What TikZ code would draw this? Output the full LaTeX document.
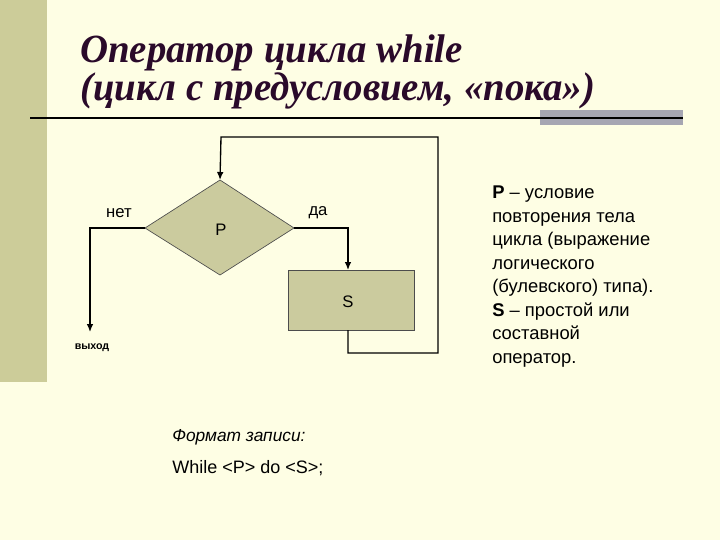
\documentclass[tikz,border=0pt]{standalone}
\usepackage{fontspec}
\setmainfont{Liberation Serif}
\setsansfont{Liberation Sans}
\usetikzlibrary{arrows.meta}
\definecolor{bg}{HTML}{FEFEE4}
\definecolor{bar}{HTML}{CCCC99}
\definecolor{fillc}{HTML}{CBCB9E}
\definecolor{titlec}{HTML}{2A0A2A}
\definecolor{grayblk}{HTML}{A6A6B2}
\tikzset{
  conn/.style={line width=1pt},
  arr/.style={conn,-{Latex[length=6pt,width=5pt]}},
  lab/.style={font=\sffamily\fontsize{12.5}{14}\selectfont, inner sep=0pt},
  shapefill/.style={fill=fillc, draw=black!70, line width=0.5pt},
  ttl/.style={anchor=base west, text=titlec, font=\bfseries\itshape\fontsize{30}{34}\selectfont, inner sep=0pt, xscale=0.97}
}
\begin{document}
\begin{tikzpicture}[x=0.75pt,y=-0.75pt]
\useasboundingbox (0,0) rectangle (720,540);
\fill[bg] (0,0) rectangle (720,540);
\fill[bar] (0,0) rectangle (47,382);
\fill[grayblk] (540,110) rectangle (683,125);
\draw[line width=1.5pt] (30,118) -- (683,118);
\node[ttl] (t1) at (80,62) {Оператор цикла while};
\node[ttl] (t2) at (80,100) {(цикл с предусловием, «пока»)};
% diamond
\path[shapefill] (145,228) -- (220,180) -- (294,228) -- (220,275) -- cycle;
\coordinate (dL) at (145,228); \coordinate (dR) at (294,228);
\coordinate (dT) at (220,180);
\node[lab] (P) at (221,230) {P};
\node[shapefill, minimum width=94.5pt, minimum height=45pt, inner sep=0pt, anchor=north west] (S) at (288,270) {};
\node[lab] (Sl) at (348,302) {S};
\coordinate (exit) at (90,332);
\coordinate (sb) at (348,330);
\draw[arr] (dL) -- (90,228) -- (exit);
\draw[arr] (dR) -- (348,228) -- (348,270);
\draw[arr] (sb) -- (348,353) -- (438,353) -- (438,137) -- (221,137) -- (dT);
\node[lab] (net) at (119,213) {нет};
\node[lab] (da) at (318,213) {да};
\node[font=\sffamily\bfseries\fontsize{8}{9}\selectfont, inner sep=0pt] (vyh) at (92,348) {выход};
\node[anchor=west, font=\sffamily\itshape\fontsize{13}{14}\selectfont, inner sep=0pt] (f1) at (172,437) {Формат записи:};
\node[anchor=west, font=\sffamily\fontsize{13.5}{14}\selectfont, inner sep=0pt] (f2) at (172,468) {While <P> do <S>;};
\node[anchor=north west, align=left, font=\sffamily\fontsize{13.8}{17.6}\selectfont, inner sep=0pt] (txt) at (492,186) {\textbf{P} – условие\\повторения тела\\цикла (выражение\\логического\\(булевского) типа).\\\textbf{S} – простой или\\составной\\оператор.};
\end{tikzpicture}
\end{document}
